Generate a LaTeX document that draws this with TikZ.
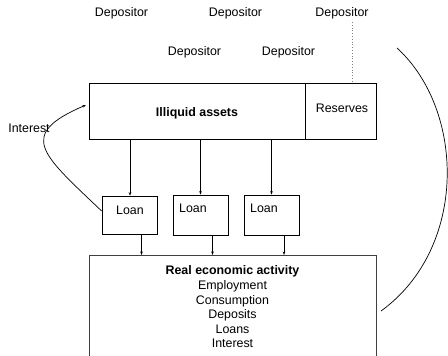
\documentclass[tikz,border=0pt]{standalone}
\usepackage{fontspec}
\setmainfont{Liberation Sans}
\usetikzlibrary{arrows.meta}
\begin{document}
\begin{tikzpicture}[x=1pt,y=-1pt,
  every node/.style={font=\fontsize{12.4}{14.6}\selectfont, inner sep=0pt},
  box/.style={draw, line width=0.8pt, minimum width=#1},
  txt/.style={},
  conn/.style={line width=0.7pt, -{Stealth[length=3.5pt,width=2.6pt]}},
  arc/.style={line width=0.7pt}]
\useasboundingbox (0,0) rectangle (448,356);
\clip (0,0) rectangle (448,356);
% depositors
\node (d1) at (121.5,13) {Depositor};
\node (d2) at (235.5,13) {Depositor};
\node (d3) at (342,13) {Depositor};
\node (d4) at (194.5,52) {Depositor};
\node (d5) at (288.5,52) {Depositor};
% bank boxes
\node[draw, line width=0.8pt, minimum width=216pt, minimum height=56pt] (ill) at (197,111) {};
\node[font=\fontsize{12.4}{14.6}\selectfont\bfseries] (illt) at (197,113) {Illiquid assets};
\node[draw, line width=0.8pt, minimum width=71pt, minimum height=56pt] (res) at (340.5,111) {};
\node (rest) at (342,108) {Reserves};
\coordinate (dtop) at (352,22);
\coordinate (dbot) at (352,83);
\draw[dotted, line width=0.8pt, gray] (dtop) -- (dbot);
% loans
\node[draw, line width=0.8pt, minimum width=55pt, minimum height=38pt] (l1) at (129.5,215) {};
\node[draw, line width=0.8pt, minimum width=55pt, minimum height=40pt] (l2) at (200.5,215) {};
\node[draw, line width=0.8pt, minimum width=55pt, minimum height=40pt] (l3) at (271.5,215) {};
\node (l1t) at (130,210) {Loan};
\node (l2t) at (193,208) {Loan};
\node (l3t) at (264,208) {Loan};
% real economy
\node[draw, draw=black!75, line width=0.9pt, minimum width=287pt, minimum height=110pt, anchor=north] (real) at (232.5,255) {};
\node[align=center] (realt) at (232.5,307) {\textbf{Real economic activity}\\Employment\\Consumption\\Deposits\\Loans\\Interest};
% connectors
\draw[conn] (ill.south -| 130,0) -- (l1.north -| 130,0);
\draw[conn] (ill.south -| 200.5,0) -- (l2.north -| 200.5,0);
\draw[conn] (ill.south -| 271.5,0) -- (l3.north -| 271.5,0);
\draw[conn] (l1.south -| 141.5,0) -- (real.north -| 141.5,0);
\draw[conn] (l2.south -| 212.5,0) -- (real.north -| 212.5,0);
\draw[conn] (l3.south -| 284,0) -- (real.north -| 284,0);
% interest loop
\node (intl) at (29,128) {Interest};
\coordinate (itip) at (86,105);
\draw[conn] (l1.west |- 0,211) .. controls (42,154) and (16,135) .. (itip);
% right arc
\coordinate (ra) at (397,48);
\coordinate (rb) at (381,311);
\draw[arc] (ra) .. controls (465,110) and (468,248) .. (rb);
\end{tikzpicture}
\end{document}
